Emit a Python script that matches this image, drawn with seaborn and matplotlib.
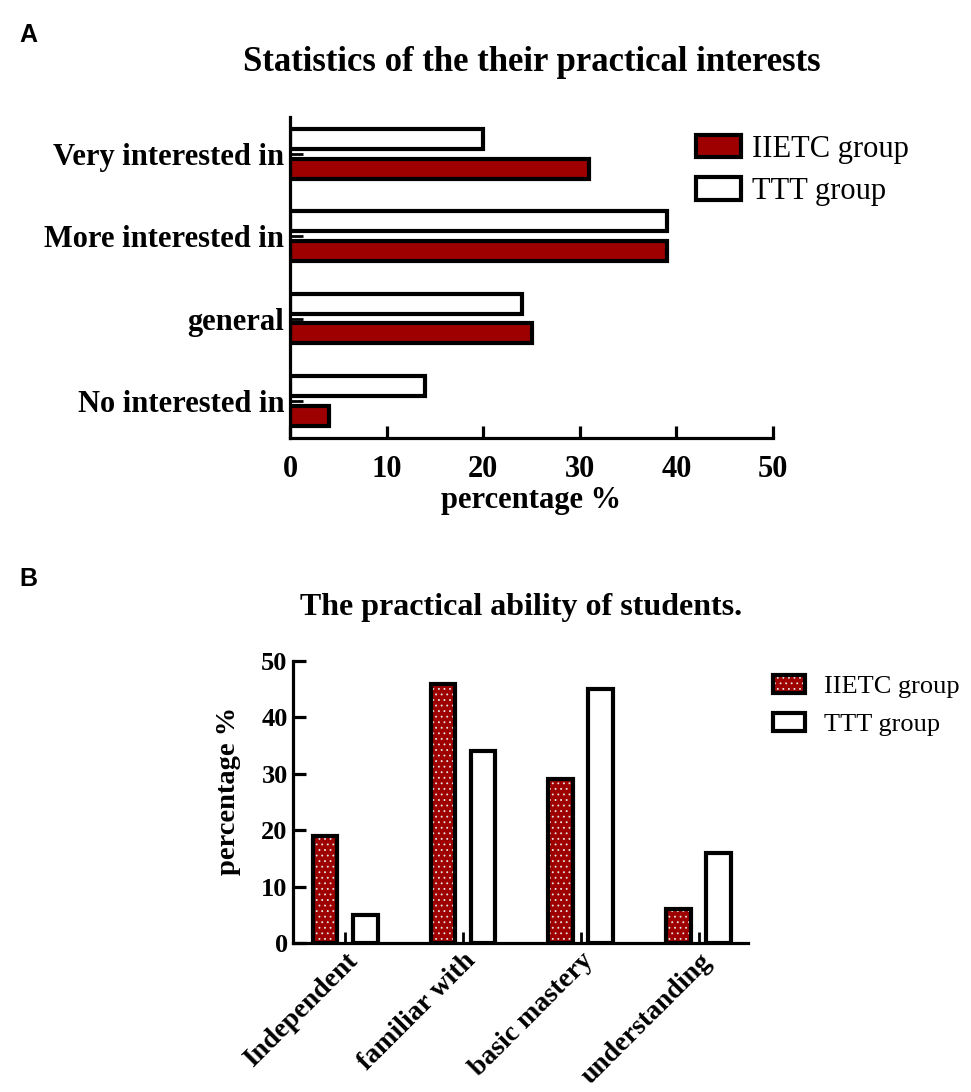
import numpy as np
import pandas as pd
import matplotlib
matplotlib.use('Agg')
import matplotlib.pyplot as plt
import matplotlib.colors as mcolors
import seaborn as sns

# Panel A: practical interests (horizontal bars)
interest_cats = ['Very interested in', 'More interested in', 'general', 'No interested in']
interest_iietc = [31, 39, 25, 4]
interest_ttt = [20, 39, 24, 14]

# Panel B: practical ability (vertical bars)
ability_cats = ['Independent', 'familiar with', 'basic mastery', 'understanding']
ability_iietc = [19, 46, 29, 6]
ability_ttt = [5, 34, 45, 16]

groups = ['IIETC group', 'TTT group']
RED = '#9e0000'
palette = {'IIETC group': RED, 'TTT group': 'white'}

sns.set_style('ticks')
plt.rcParams['font.family'] = ['Liberation Serif', 'DejaVu Serif']
plt.rcParams['text.color'] = 'black'
plt.rcParams['axes.labelcolor'] = 'black'
plt.rcParams['xtick.color'] = 'black'
plt.rcParams['ytick.color'] = 'black'
plt.rcParams['hatch.linewidth'] = 0.6

df_a = pd.DataFrame({
    'category': interest_cats * 2,
    'group': [groups[0]] * 4 + [groups[1]] * 4,
    'value': interest_iietc + interest_ttt,
})
df_b = pd.DataFrame({
    'category': ability_cats * 2,
    'group': [groups[0]] * 4 + [groups[1]] * 4,
    'value': ability_iietc + ability_ttt,
})

fig = plt.figure(figsize=(9.71, 10.92), dpi=100)
ax1 = fig.add_axes([0.2987, 0.599, 0.4974, 0.294])
ax2 = fig.add_axes([0.302, 0.1364, 0.4686, 0.2583])


def style_axis(ax):
    sns.despine(ax=ax)
    for side in ['left', 'bottom']:
        ax.spines[side].set_linewidth(2.3)
        ax.spines[side].set_color('black')


# --- A ---
sns.barplot(data=df_a, y='category', x='value', hue='group',
            order=interest_cats, hue_order=['TTT group', 'IIETC group'],
            palette=palette, saturation=1, edgecolor='black', linewidth=3,
            width=0.72, gap=0.33, errorbar=None, legend=False, ax=ax1)
style_axis(ax1)
ax1.set_xlim(0, 50)
ax1.set_ylim(3.45, -0.45)
ax1.set_xticks([0, 10, 20, 30, 40, 50])
ax1.tick_params(axis='x', direction='in', length=9, width=2.3, labelsize=22, pad=12)
ax1.tick_params(axis='y', direction='in', length=9, width=2, labelsize=22, pad=4)
for lbl in ax1.get_xticklabels() + ax1.get_yticklabels():
    lbl.set_fontweight('bold')
ax1.set_ylabel('')
ax1.set_xlabel('percentage %', fontsize=22, fontweight='bold', labelpad=2)
ax1.set_title('Statistics of the their practical interests', fontsize=25,
              fontweight='bold', pad=33)
ax1.legend(handles=[ax1.containers[1][0], ax1.containers[0][0]], labels=groups,
           loc='upper left', bbox_to_anchor=(0.688, 0.902),
           bbox_transform=fig.transFigure, frameon=False, fontsize=22,
           handlelength=1.5, handleheight=0.75, handletextpad=0.35, labelspacing=0.45)

# --- B ---
sns.barplot(data=df_b, x='category', y='value', hue='group',
            order=ability_cats, hue_order=groups,
            palette=palette, saturation=1, edgecolor='black', linewidth=3,
            width=0.68, gap=0.38, errorbar=None, legend=False, ax=ax2)
for bar in ax2.containers[0]:
    bar.set_hatch('...')
    bar._hatch_color = mcolors.to_rgba('#e6e6e6')
style_axis(ax2)
ax2.set_ylim(0, 50)
ax2.set_xlim(-0.44, 3.42)
ax2.set_yticks([0, 10, 20, 30, 40, 50])
ax2.tick_params(axis='y', direction='in', length=9, width=2.3, labelsize=19, pad=4)
ax2.tick_params(axis='x', direction='in', length=8, width=2, labelsize=20, pad=4)
for lbl in ax2.get_xticklabels():
    lbl.set_rotation(45)
    lbl.set_ha('right')
    lbl.set_rotation_mode('anchor')
for lbl in ax2.get_xticklabels() + ax2.get_yticklabels():
    lbl.set_fontweight('bold')
ax2.set_xlabel('')
ax2.set_ylabel('percentage %', fontsize=20.5, fontweight='bold')
ax2.yaxis.set_label_coords(-0.114, 0.54)
ax2.set_title('The practical ability of students.', fontsize=23,
              fontweight='bold', pad=33)
ax2.legend(handles=[ax2.containers[0][0], ax2.containers[1][0]], labels=groups,
           loc='upper left', bbox_to_anchor=(0.772, 0.404),
           bbox_transform=fig.transFigure, frameon=False, fontsize=19,
           handlelength=1.2, handleheight=0.7, handletextpad=0.7, labelspacing=0.55)

fig.text(0.02, 0.968, 'A', fontfamily='Liberation Sans', fontweight='bold',
         fontsize=18, va='center')
fig.text(0.02, 0.47, 'B', fontfamily='Liberation Sans', fontweight='bold',
         fontsize=18, va='center')

fig.savefig('out.png', dpi=100, facecolor='white')
